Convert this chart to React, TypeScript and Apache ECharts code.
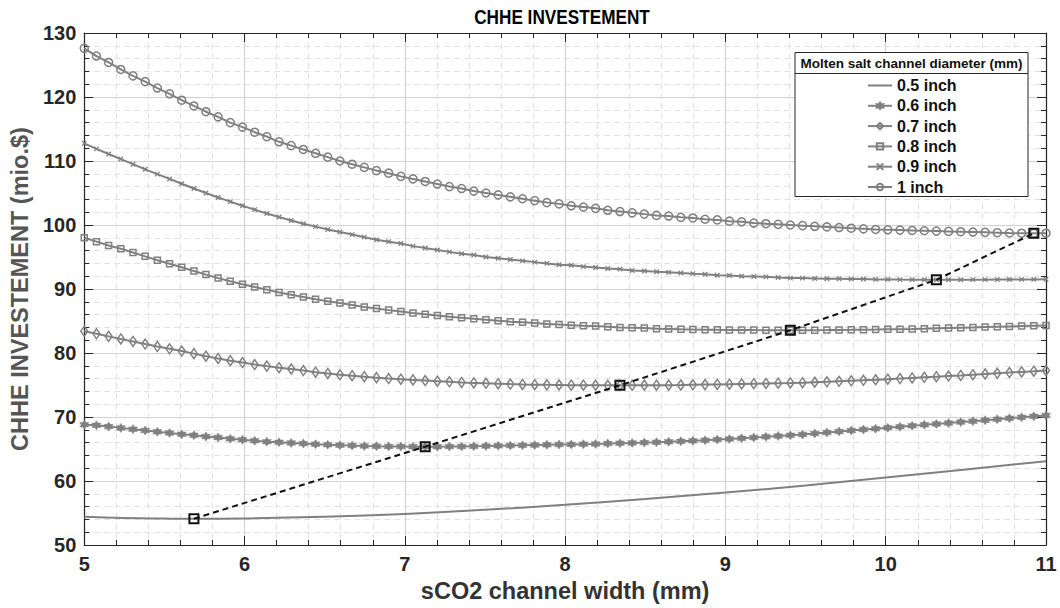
import React, { useEffect, useRef } from "react";
import * as echarts from "echarts";

// sCO2 channel width sample points (mm), 80 points used for all marker curves
const xs = [
  5.0, 5.076, 5.152, 5.228, 5.304, 5.38, 5.456, 5.532, 5.608, 5.684,
  5.759, 5.835, 5.911, 5.987, 6.063, 6.139, 6.215, 6.291, 6.367, 6.443,
  6.519, 6.595, 6.671, 6.747, 6.823, 6.899, 6.975, 7.051, 7.127, 7.203,
  7.278, 7.354, 7.43, 7.506, 7.582, 7.658, 7.734, 7.81, 7.886, 7.962,
  8.038, 8.114, 8.19, 8.266, 8.342, 8.418, 8.494, 8.57, 8.646, 8.722,
  8.797, 8.873, 8.949, 9.025, 9.101, 9.177, 9.253, 9.329, 9.405, 9.481,
  9.557, 9.633, 9.709, 9.785, 9.861, 9.937, 10.013, 10.089, 10.165, 10.241,
  10.316, 10.392, 10.468, 10.544, 10.62, 10.696, 10.772, 10.848, 10.924, 11.0,
];

// 0.5 inch curve (no markers)
const x05 = [5, 5.25, 5.5, 5.684, 6, 6.5, 7, 7.5, 8, 8.5, 9, 9.5, 10, 10.5, 11];
const y05 = [54.4, 54.22, 54.13, 54.1, 54.15, 54.4, 54.85, 55.5, 56.3, 57.2, 58.2, 59.3, 60.55, 61.8, 63.1];

const y06 = [
  68.8, 68.7, 68.5, 68.3, 68.1, 67.9, 67.7, 67.5, 67.3, 67.15,
  66.95, 66.8, 66.6, 66.45, 66.3, 66.15, 66.05, 65.95, 65.85, 65.75,
  65.67, 65.6, 65.53, 65.48, 65.44, 65.41, 65.39, 65.37, 65.36, 65.37,
  65.38, 65.4, 65.43, 65.46, 65.5, 65.53, 65.57, 65.61, 65.65, 65.69,
  65.72, 65.76, 65.8, 65.85, 65.9, 65.95, 66.0, 66.06, 66.13, 66.2,
  66.28, 66.37, 66.47, 66.57, 66.67, 66.78, 66.9, 67.02, 67.14, 67.27,
  67.42, 67.58, 67.74, 67.9, 68.05, 68.18, 68.32, 68.47, 68.62, 68.77,
  68.91, 69.05, 69.2, 69.35, 69.5, 69.66, 69.81, 69.96, 70.1, 70.24,
];

const y07 = [
  83.4, 83.0, 82.6, 82.2, 81.8, 81.4, 81.0, 80.65, 80.3, 79.9,
  79.5, 79.15, 78.8, 78.5, 78.2, 77.95, 77.7, 77.5, 77.25, 77.0,
  76.8, 76.6, 76.45, 76.3, 76.15, 76.0, 75.9, 75.8, 75.7, 75.6,
  75.5, 75.4, 75.33, 75.26, 75.2, 75.14, 75.09, 75.05, 75.02, 75.0,
  74.98, 74.97, 74.96, 74.95, 74.95, 74.95, 74.96, 74.97, 74.98, 75.0,
  75.03, 75.06, 75.09, 75.13, 75.17, 75.21, 75.25, 75.29, 75.32, 75.36,
  75.43, 75.5, 75.58, 75.66, 75.74, 75.82, 75.91, 76.0, 76.1, 76.2,
  76.3, 76.4, 76.5, 76.61, 76.72, 76.83, 76.94, 77.05, 77.16, 77.28,
];

const y08 = [
  98.0, 97.4, 96.8, 96.3, 95.7, 95.1, 94.5, 93.95, 93.4, 92.8,
  92.25, 91.7, 91.2, 90.75, 90.3, 89.9, 89.45, 89.1, 88.75, 88.4,
  88.1, 87.8, 87.5, 87.2, 86.95, 86.7, 86.5, 86.25, 86.05, 85.85,
  85.65, 85.5, 85.35, 85.2, 85.05, 84.9, 84.8, 84.7, 84.55, 84.45,
  84.35, 84.25, 84.2, 84.1, 84.0, 83.95, 83.9, 83.8, 83.75, 83.7,
  83.67, 83.65, 83.62, 83.6, 83.6, 83.58, 83.57, 83.56, 83.55, 83.56,
  83.57, 83.58, 83.6, 83.62, 83.65, 83.67, 83.7, 83.73, 83.76, 83.8,
  83.85, 83.9, 83.95, 84.0, 84.05, 84.1, 84.15, 84.2, 84.25, 84.3,
];

const y09 = [
  112.75, 111.9, 111.1, 110.3, 109.5, 108.7, 107.95, 107.2, 106.45, 105.7,
  105.0, 104.3, 103.65, 103.0, 102.4, 101.8, 101.25, 100.7, 100.2, 99.75,
  99.3, 98.9, 98.5, 98.1, 97.7, 97.4, 97.1, 96.7, 96.4, 96.1,
  95.8, 95.5, 95.3, 95.0, 94.8, 94.6, 94.4, 94.2, 94.0, 93.8,
  93.7, 93.5, 93.35, 93.2, 93.1, 92.9, 92.8, 92.7, 92.6, 92.5,
  92.4, 92.3, 92.15, 92.1, 92.0, 91.95, 91.9, 91.8, 91.7, 91.7,
  91.65, 91.6, 91.6, 91.55, 91.55, 91.5, 91.5, 91.47, 91.46, 91.45,
  91.44, 91.45, 91.45, 91.46, 91.46, 91.47, 91.48, 91.5, 91.5, 91.52,
];

const y10 = [
  127.6, 126.4, 125.4, 124.3, 123.3, 122.4, 121.4, 120.5, 119.5, 118.6,
  117.7, 116.9, 116.0, 115.3, 114.5, 113.8, 113.0, 112.4, 111.8, 111.2,
  110.6, 110.0, 109.5, 109.0, 108.5, 108.1, 107.6, 107.2, 106.8, 106.4,
  106.0, 105.7, 105.3, 105.0, 104.7, 104.4, 104.1, 103.8, 103.5, 103.3,
  103.0, 102.8, 102.6, 102.3, 102.1, 101.9, 101.7, 101.5, 101.4, 101.2,
  101.1, 100.9, 100.8, 100.6, 100.5, 100.3, 100.2, 100.1, 100.0, 99.9,
  99.8, 99.7, 99.6, 99.5, 99.4, 99.3, 99.25, 99.2, 99.15, 99.1,
  99.05, 99.0, 98.95, 98.9, 98.85, 98.8, 98.75, 98.72, 98.7, 98.72,
];

// minimum points of each curve (connected by the dashed line)
const minX = [5.684, 7.127, 8.342, 9.405, 10.316, 10.924];
const minY = [54.1, 65.36, 74.95, 83.55, 91.44, 98.7];

const seriesNames = ["0.5 inch", "0.6 inch", "0.7 inch", "0.8 inch", "0.9 inch", "1 inch"];
const legendTitle = "Molten salt channel diameter (mm)";
const chartTitle = "CHHE INVESTEMENT";
const xName = "sCO2 channel width (mm)";
const yName = "CHHE INVESTEMENT (mio.$)";

const GRAY = "#808080";
const FONT = "'Liberation Sans', Arial, Helvetica, sans-serif";

const hexagram =
  "path://M10,0L12.89,5L18.66,5L15.77,10L18.66,15L12.89,15L10,20L7.11,15L1.34,15L4.23,10L1.34,5L7.11,5Z";
const cross = "path://M0,0L10,10M10,0L0,10";

function pair(x: number[], y: number[]) {
  return x.map((v, i) => [v, y[i]]);
}

export default function App() {
  const ref = useRef<HTMLDivElement>(null);
  useEffect(() => {
    if (!ref.current) return;
    const chart = echarts.init(ref.current, null, { renderer: "svg" });
    const axisLine = { show: true, lineStyle: { color: "#262626", width: 1.2 } };
    const baseX = {
      type: "value",
      min: 5,
      max: 11,
      interval: 1,
      axisLine,
      axisTick: { show: true, inside: true, length: 9, lineStyle: { color: "#262626", width: 1 } },
      minorTick: { show: true, splitNumber: 5, length: 5, lineStyle: { color: "#262626", width: 1 } },
    };
    const baseY = {
      type: "value",
      min: 50,
      max: 130,
      interval: 10,
      axisLine,
      axisTick: { show: true, inside: true, length: 9, lineStyle: { color: "#262626", width: 1 } },
      minorTick: { show: true, splitNumber: 5, length: 5, lineStyle: { color: "#262626", width: 1 } },
    };
    const labelStyle = { fontFamily: FONT, fontWeight: "bold", fontSize: 20, color: "#262626" };
    const markerSeries = (name: string, y: number[], symbol: string, size: any, filled: boolean, bw = 1.5) => ({
      name,
      type: "line",
      data: pair(xs, y),
      symbol,
      symbolSize: size,
      showSymbol: true,
      lineStyle: { color: GRAY, width: 2 },
      itemStyle: filled
        ? { color: GRAY, borderColor: GRAY, borderWidth: 0.5 }
        : { color: "rgba(0,0,0,0)", borderColor: GRAY, borderWidth: bw },
      z: 3,
    });
    chart.setOption({
      animation: false,
      backgroundColor: "#ffffff",
      grid: { left: 78, right: 14, top: 33, bottom: 63, containLabel: false },
      xAxis: [
        {
          ...baseX,
          position: "bottom",
          axisLabel: { ...labelStyle, margin: 9 },
          splitLine: { show: true, lineStyle: { color: "#d2d2d2", width: 1.2 } },
          minorSplitLine: { show: true, lineStyle: { color: "#e2e2e2", width: 1, type: [6, 4] } },
          name: xName,
          nameLocation: "middle",
          nameGap: 32,
          nameTextStyle: { fontFamily: FONT, fontWeight: "bold", fontSize: 23.5, color: "#333" },
        },
        {
          ...baseX,
          position: "top",
          axisLabel: { show: false },
          splitLine: { show: false },
        },
      ],
      yAxis: [
        {
          ...baseY,
          position: "left",
          axisLabel: { ...labelStyle, margin: 8 },
          splitLine: { show: true, lineStyle: { color: "#d2d2d2", width: 1.2 } },
          minorSplitLine: { show: true, lineStyle: { color: "#e2e2e2", width: 1, type: [6, 4] } },
          name: yName,
          nameLocation: "middle",
          nameGap: 44,
          nameTextStyle: { fontFamily: FONT, fontWeight: "bold", fontSize: 23.5, color: "#555" },
        },
        {
          ...baseY,
          position: "right",
          axisLabel: { show: false },
          splitLine: { show: false },
        },
      ],
      legend: {
        data: [
          { name: seriesNames[0], itemStyle: { color: "rgba(0,0,0,0)", borderWidth: 0, opacity: 0 } },
          seriesNames[1],
          seriesNames[2],
          seriesNames[3],
          seriesNames[4],
          seriesNames[5],
        ],
        orient: "vertical",
        left: 862,
        top: 72.5,
        itemWidth: 24,
        itemHeight: 8,
        itemGap: 4.3,
        z: 120,
        textStyle: { fontFamily: FONT, fontWeight: "bold", fontSize: 16, color: "#111", lineHeight: 15 },
      },
      graphic: [
        {
          type: "text",
          z: 101,
          x: 562,
          y: 17,
          scaleX: 0.86,
          originX: 0,
          originY: 0,
          style: {
            text: chartTitle,
            x: 0,
            y: 0,
            fontFamily: FONT,
            fontWeight: "bold",
            fontSize: 20,
            fill: "#000",
            textAlign: "center",
            textVerticalAlign: "middle",
          },
        },
        {
          type: "rect",
          z: 100,
          shape: { x: 795, y: 52.5, width: 233, height: 144 },
          style: { fill: "#ffffff", stroke: "#262626", lineWidth: 1 },
        },
        {
          type: "line",
          z: 101,
          shape: { x1: 795, y1: 73.5, x2: 1028, y2: 73.5 },
          style: { stroke: "#262626", lineWidth: 1 },
        },
        {
          type: "text",
          z: 101,
          x: 911.5,
          y: 63.5,
          style: {
            text: legendTitle,
            fontFamily: FONT,
            fontWeight: "bold",
            fontSize: 13.5,
            fill: "#111",
            textAlign: "center",
            textVerticalAlign: "middle",
          },
        },
      ],
      series: [
        {
          name: seriesNames[0],
          type: "line",
          data: pair(x05, y05),
          smooth: true,
          symbol: "none",
          lineStyle: { color: GRAY, width: 2 },
          itemStyle: { color: GRAY },
          z: 3,
        },
        markerSeries(seriesNames[1], y06, hexagram, 9, true),
        markerSeries(seriesNames[2], y07, "diamond", [7, 10], false),
        markerSeries(seriesNames[3], y08, "rect", 6, false),
        markerSeries(seriesNames[4], y09, cross, 4.5, false, 1.3),
        markerSeries(seriesNames[5], y10, "circle", 8, false),
        {
          name: "minimum",
          type: "line",
          data: pair(minX, minY),
          symbol: "rect",
          symbolSize: 9,
          lineStyle: { color: "#111", width: 2, type: [6, 4] },
          itemStyle: { color: "rgba(0,0,0,0)", borderColor: "#111", borderWidth: 2 },
          z: 5,
        },
      ],
    });
    return () => chart.dispose();
  }, []);
  return (
    <div
      ref={ref}
      style={{ position: "fixed", left: 0, top: 0, width: 1060, height: 608, background: "#fff" }}
    />
  );
}
